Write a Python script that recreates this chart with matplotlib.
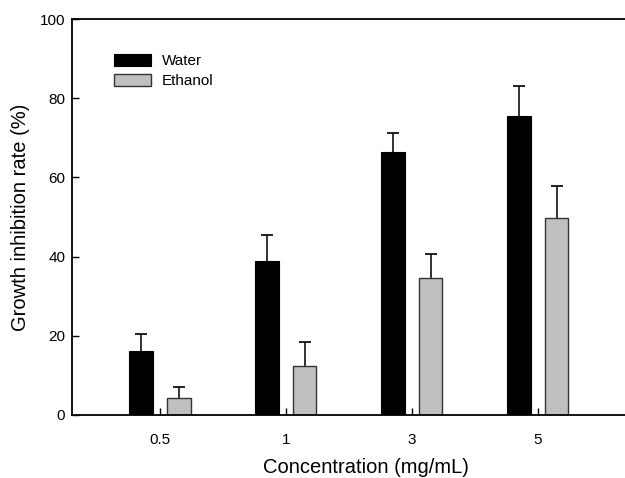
import matplotlib
matplotlib.use('Agg')
import matplotlib.pyplot as plt
import numpy as np

plt.rcParams['font.family'] = ['Liberation Sans', 'DejaVu Sans']

# data
concentrations = ['0.5', '1', '3', '5']
water = [16.1, 38.9, 66.4, 75.5]
water_err = [4.3, 6.5, 4.9, 7.7]
ethanol = [4.3, 12.4, 34.5, 49.8]
ethanol_err = [2.6, 6.1, 6.1, 8.1]

x = np.arange(len(concentrations))
width = 0.185
offset = 0.15

fig = plt.figure(figsize=(6.25, 4.78), dpi=100)
# axes runs past the right edge of the figure, as in the reference
ax = fig.add_axes([0.1157, 0.1324, 0.9403, 0.8272])

ax.bar(x - offset, water, width, color='black', edgecolor='black', linewidth=0.8,
       label='Water', zorder=2)
ax.bar(x + offset, ethanol, width, color='#c0c0c0', edgecolor='#333333', linewidth=1.0,
       label='Ethanol', zorder=2)

# upper-only error bars, cap only at the top
for xs, vals, errs in [(x - offset, water, water_err), (x + offset, ethanol, ethanol_err)]:
    vals = np.array(vals)
    errs = np.array(errs)
    ax.errorbar(xs, vals, yerr=[np.zeros(len(errs)), errs], fmt='none',
                ecolor='#111111', elinewidth=1.2, capsize=0, zorder=1)
    ax.plot(xs, vals + errs, linestyle='none', marker='_', markersize=8.5,
            markeredgewidth=1.3, color='#111111', zorder=1)

ax.set_xlim(-0.696, 3.97)
ax.set_ylim(0, 100)
ax.set_yticks([0, 20, 40, 60, 80, 100])
ax.set_xticks(x)
ax.set_xticklabels(concentrations)

ax.spines['right'].set_visible(False)
for s in ['left', 'bottom', 'top']:
    ax.spines[s].set_linewidth(1.3)

ax.tick_params(axis='both', direction='in', length=5, width=1.0, labelsize=11)
ax.tick_params(axis='x', pad=13)
ax.tick_params(axis='y', pad=5)

ax.set_xlabel('Concentration (mg/mL)', fontsize=14.5, labelpad=8)
ax.set_ylabel('Growth inhibition rate (%)', fontsize=14.5, labelpad=7)

ax.legend(loc='upper left', bbox_to_anchor=(0.048, 0.947), frameon=False, fontsize=11,
          handlelength=2.4, handleheight=0.85, handletextpad=0.7, labelspacing=0.35)

fig.savefig('out.png', dpi=100)
